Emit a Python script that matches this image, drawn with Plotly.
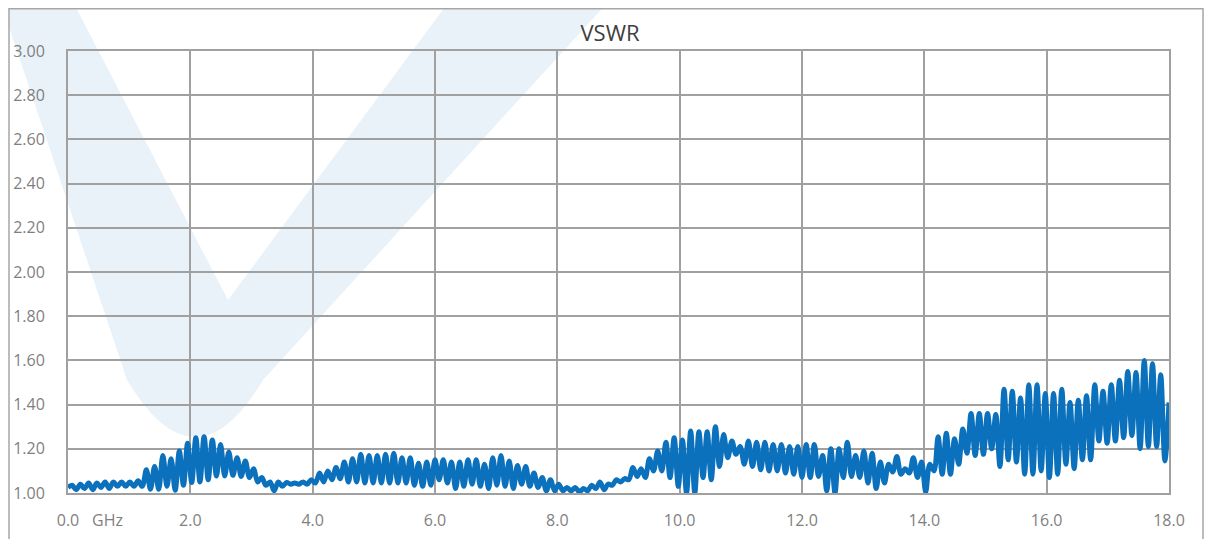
import numpy as np
import plotly.graph_objects as go

# VSWR readings: alternating troughs / peaks of the ripple, 0 -> 18 GHz
peaks = [
    1.035, 1.04, 1.045, 1.045, 1.05, 1.05, 1.05, 1.05, 1.055, 1.105,
    1.12, 1.17, 1.155, 1.19, 1.225, 1.25, 1.255, 1.24, 1.22, 1.185,
    1.16, 1.145, 1.11, 1.07, 1.05, 1.05, 1.048, 1.045, 1.05, 1.06,
    1.09, 1.10, 1.115, 1.14, 1.155, 1.175, 1.17, 1.17, 1.175, 1.18,
    1.16, 1.16, 1.135, 1.14, 1.15, 1.15, 1.14, 1.14, 1.15, 1.15,
    1.13, 1.16, 1.17, 1.145, 1.125, 1.12, 1.09, 1.07, 1.06, 1.04,
    1.025, 1.025, 1.02, 1.035, 1.05, 1.04, 1.06, 1.065, 1.115, 1.11,
    1.155, 1.19, 1.23, 1.25, 1.24, 1.28, 1.277, 1.277, 1.30, 1.265,
    1.235, 1.21, 1.235, 1.23, 1.23, 1.22, 1.22, 1.21, 1.21, 1.22,
    1.22, 1.17, 1.2, 1.2, 1.23, 1.17, 1.19, 1.18, 1.14, 1.13,
    1.165, 1.11, 1.16, 1.14, 1.13, 1.255, 1.27, 1.245, 1.29, 1.36,
    1.36, 1.36, 1.355, 1.47, 1.46, 1.43, 1.49, 1.49, 1.45, 1.45,
    1.47, 1.41, 1.42, 1.44, 1.49, 1.46, 1.49, 1.51, 1.55, 1.545,
    1.60, 1.585, 1.535,
]
troughs = [
    1.025, 1.015, 1.02, 1.015, 1.025, 1.02, 1.03, 1.03, 1.03, 1.03,
    1.017, 1.017, 1.03, 1.012, 1.035, 1.047, 1.05, 1.06, 1.077, 1.077,
    1.08, 1.075, 1.07, 1.05, 1.035, 1.01, 1.03, 1.04, 1.04, 1.04,
    1.045, 1.05, 1.06, 1.065, 1.05, 1.05, 1.045, 1.045, 1.045, 1.045,
    1.045, 1.045, 1.035, 1.03, 1.035, 1.06, 1.045, 1.02, 1.03, 1.04,
    1.03, 1.02, 1.035, 1.03, 1.02, 1.04, 1.03, 1.025, 1.01, 1.01,
    1.01, 1.01, 1.005, 1.01, 1.02, 1.015, 1.035, 1.05, 1.06, 1.075,
    1.07, 1.10, 1.10, 1.07, 1.03, 1.0, 1.0, 1.07, 1.06, 1.12,
    1.16, 1.175, 1.13, 1.12, 1.105, 1.1, 1.1, 1.09, 1.085, 1.07,
    1.07, 1.075, 1.01, 1.0, 1.07, 1.075, 1.07, 1.045, 1.02, 1.045,
    1.095, 1.085, 1.09, 1.07, 1.005, 1.10, 1.085, 1.085, 1.13, 1.18,
    1.17, 1.175, 1.2, 1.12, 1.15, 1.14, 1.085, 1.085, 1.10, 1.07,
    1.085, 1.13, 1.11, 1.15, 1.15, 1.235, 1.225, 1.235, 1.25, 1.26,
    1.20, 1.21, 1.21, 1.145,
]
end_value = 1.41

x_ticks = [0, 2, 4, 6, 8, 10, 12, 14, 16, 18]
x_tick_text = ["0.0", "2.0", "4.0", "6.0", "8.0", "10.0", "12.0", "14.0", "16.0", "18.0"]
f_start, f_stop = 0.0, 18.0

# interleave trough/peak readings
vswr = []
for i in range(len(peaks)):
    vswr.append(troughs[i])
    vswr.append(peaks[i])
vswr.extend(troughs[len(peaks):])
vswr.append(end_value)
freq = np.linspace(f_start, f_stop, len(vswr))

fig = go.Figure()
fig.add_trace(go.Scatter(
    x=freq, y=vswr, mode="lines",
    line=dict(color="#0b71bd", width=5, shape="spline", smoothing=1.0),
    hoverinfo="skip", showlegend=False,
))

# page body adds an 8px offset; figure is 1204x531 placed at (8, 8)
W, H = 1204, 531
L, R, T, B = 60, 43, 43, 46
PW, PH = W - L - R, H - T - B


def px_x(x):
    return (x - 8 - L) / PW


def px_y(y):
    return (H - B - (y - 8)) / PH


def pt(x, y):
    return f"{px_x(x):.5f},{px_y(y):.5f}"


# faint "V" logo watermark behind the chart
logo_path = ("M " + pt(0, 0) + " L " + pt(127, 380) + " Q " + pt(195, 494) + " " + pt(263, 380)
             + " L " + pt(610, 0) + " L " + pt(450, 0) + " L " + pt(228, 300)
             + " L " + pt(72, 0) + " Z")

shapes = [
    dict(type="path", xref="paper", yref="paper", path=logo_path,
         fillcolor="#eaf2f9", line=dict(width=0), layer="below"),
    dict(type="rect", xref="paper", yref="paper", x0=px_x(9), x1=px_x(1203),
         y0=px_y(560), y1=px_y(8.8),
         line=dict(color="#a6a6a6", width=1.5), fillcolor="rgba(0,0,0,0)", layer="below"),
]

GRID = "#a0a0a0"
fig.update_layout(
    width=W, height=H,
    margin=dict(l=L, r=R, t=T, b=B, autoexpand=False),
    paper_bgcolor="white", plot_bgcolor="rgba(0,0,0,0)",
    title=dict(text="VSWR", x=0.5, xanchor="center", y=1 - 25 / H, yanchor="middle",
               font=dict(family="Open Sans", size=22, color="#404040")),
    font=dict(family="Open Sans", size=16, color="#7f7f7f"),
    xaxis=dict(range=[f_start, f_stop], tickvals=x_ticks, ticktext=x_tick_text,
               showgrid=True, gridcolor=GRID, gridwidth=2, zeroline=False,
               showline=True, linecolor=GRID, linewidth=2, mirror=True,
               ticks="", ticklabelstandoff=12, automargin=False, fixedrange=True),
    yaxis=dict(range=[1.0, 3.0], dtick=0.2, tick0=1.0, tickformat=".2f",
               showgrid=True, gridcolor=GRID, gridwidth=2, zeroline=False,
               showline=True, linecolor=GRID, linewidth=2, mirror=True,
               ticks="", ticklabelstandoff=18, automargin=False, fixedrange=True),
    shapes=shapes,
    annotations=[dict(text="GHz", xref="paper", yref="paper", x=px_x(107.5),
                      y=px_y(520), xanchor="center", yanchor="middle",
                      showarrow=False, font=dict(family="Open Sans", size=16, color="#7f7f7f"))],
)
fig.write_html("out.html")
